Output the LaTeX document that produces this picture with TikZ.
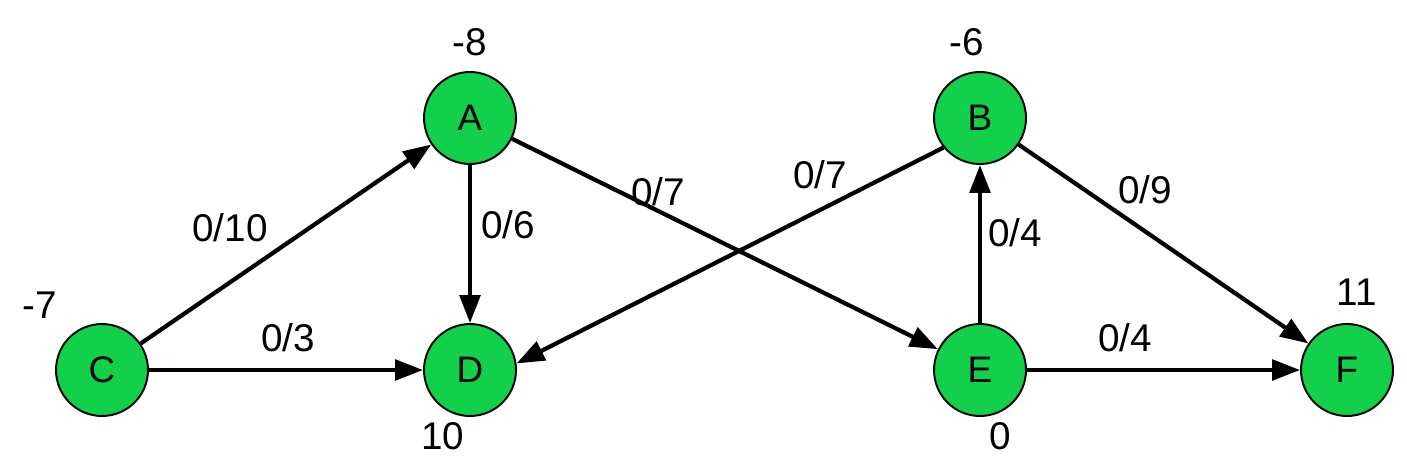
\documentclass[tikz,border=0pt]{standalone}
\usepackage{fontspec}
\setmainfont{Liberation Sans}
\usetikzlibrary{arrows.meta}
\definecolor{nodegreen}{HTML}{12D04A}
\tikzset{
	% vertex of the network and its flow arcs
	vertex/.style={circle,draw,line width=1.1pt,fill=nodegreen,minimum size=1.84cm,inner sep=0,font=\fontsize{21}{21}\selectfont},
	arc/.style={line width=2.4pt,-{Triangle[length=5.6mm,width=4.1mm]}},
	cap lbl/.style={font=\fontsize{22}{22}\selectfont},
	dem lbl/.style={font=\fontsize{22}{22}\selectfont}
}

\begin{document}
\begin{tikzpicture}
\useasboundingbox (0,0) rectangle (28.14,9.34);

% vertices
\node(C)[vertex] at (2.04,1.94){C};
\node(A)[vertex] at (9.4,6.98){A};
\node(D)[vertex] at (9.4,1.94){D};
\node(B)[vertex] at (19.6,6.98){B};
\node(E)[vertex] at (19.6,1.94){E};
\node(F)[vertex] at (26.94,1.94){F};

% supplies / demands
\node(dA)[dem lbl] at (9.4,8.5){-8};
\node(dB)[dem lbl] at (19.34,8.5){-6};
\node(dC)[dem lbl] at (0.8,3.24){-7};
\node(dD)[dem lbl] at (8.86,0.62){10};
\node(dE)[dem lbl] at (20.0,0.62){0};
\node(dF)[dem lbl] at (27.14,3.5){11};

% arcs
\draw[arc](C)--(A);
\draw[arc](C)--(D);
\draw[arc](A)--(D);
\draw[arc](A)--(E);
\draw[arc](B.219)--(D.8);
\draw[arc](E)--(B);
\draw[arc](B)--(F);
\draw[arc](E)--(F);

% flow / capacity
\node(fCA)[cap lbl] at (4.6,4.78){0/10};
\node(fCD)[cap lbl] at (5.76,2.58){0/3};
\node(fAD)[cap lbl] at (10.16,4.84){0/6};
\node(fAE)[cap lbl] at (13.16,5.5){0/7};
\node(fBD)[cap lbl] at (16.4,5.84){0/7};
\node(fEB)[cap lbl] at (20.3,4.68){0/4};
\node(fBF)[cap lbl] at (22.9,5.54){0/9};
\node(fEF)[cap lbl] at (22.5,2.58){0/4};

\end{tikzpicture}
\end{document}
